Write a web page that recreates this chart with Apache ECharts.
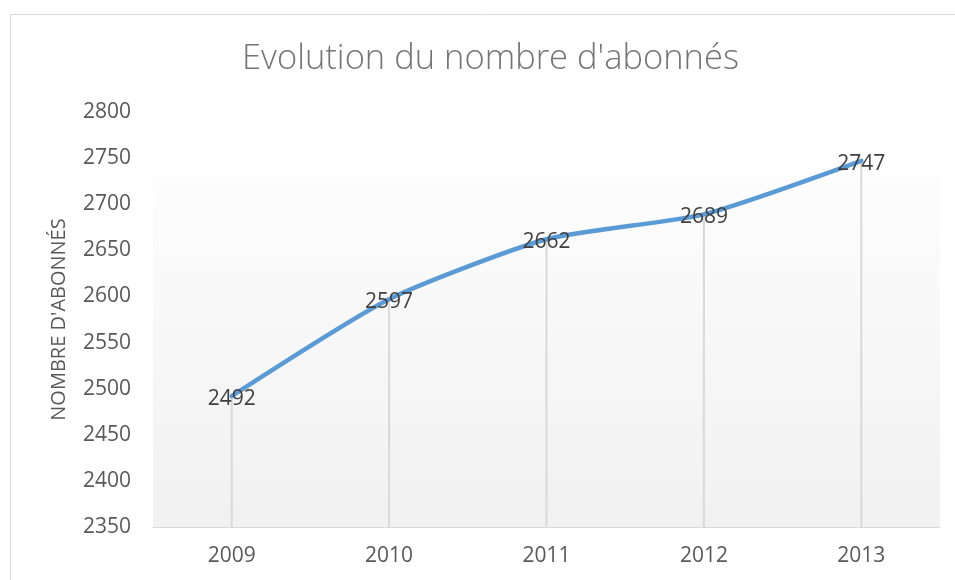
<!DOCTYPE html>
<html><head><meta charset="utf-8">
<script src="https://cdn.jsdelivr.net/npm/echarts@6/dist/echarts.min.js"></script>
<style>html,body{margin:0;padding:0;background:#fff}#c{width:955px;height:580px}</style>
</head><body><div id="c"></div>
<script>
const categories = ['2009','2010','2011','2012','2013'];
const subscribers = [2492, 2597, 2662, 2689, 2747];
const yTicks = [2350, 2400, 2450, 2500, 2550, 2600, 2650, 2700, 2750, 2800];
const titleText = "Evolution du nombre d'abonnés";
const yAxisTitle = "NOMBRE D'ABONNÉS";

const chart = echarts.init(document.getElementById('c'), null, {renderer:'canvas'});
const font = 'Open Sans, Lato, sans-serif';
chart.setOption({
  animation: false,
  backgroundColor: '#fff',
  graphic: [{
    type: 'rect', left: 8, top: 12, shape: {width: 960, height: 580},
    style: {fill: 'none', stroke: '#d9d9d9', lineWidth: 1}, silent: true, z: -10
  }],
  title: {
    text: titleText, left: 237, top: 37,
    textStyle: {fontFamily: font, fontSize: 34.5, fontWeight: 300, color: '#757575'}
  },
  grid: {
    left: 153, right: 15, top: 112, bottom: 53, show: true, borderWidth: 0,
    backgroundColor: {type: 'linear', x: 0, y: 0, x2: 0, y2: 1, colorStops: [
      {offset: 0, color: '#ffffff'}, {offset: 0.148, color: '#ffffff'},
      {offset: 0.15, color: '#fdfdfd'}, {offset: 1, color: '#f1f1f1'}]}
  },
  xAxis: {
    type: 'category', data: categories, boundaryGap: true,
    axisLine: {lineStyle: {color: '#d9d9d9', width: 1}},
    axisTick: {show: false},
    axisLabel: {fontFamily: font, fontSize: 21, color: '#595959', margin: 19}
  },
  yAxis: {
    type: 'value', min: yTicks[0], max: yTicks[yTicks.length-1], interval: 50,
    name: yAxisTitle, nameLocation: 'middle', nameGap: 84,
    nameTextStyle: {fontFamily: font, fontSize: 20, color: '#595959'},
    axisLine: {show: false}, axisTick: {show: false}, splitLine: {show: false},
    axisLabel: {fontFamily: font, fontSize: 21, color: '#595959', margin: 22,
      formatter: v => String(v)}
  },
  series: [{
    type: 'bar', data: subscribers, barWidth: 2, silent: true,
    itemStyle: {color: '#d9d9d9'}, z: 1
  }, {
    type: 'line', data: subscribers, smooth: 0.2, symbol: 'circle', symbolSize: 2,
    showSymbol: true,
    itemStyle: {color: 'rgba(91,155,213,0)'},
    lineStyle: {color: '#5b9bd5', width: 4.5, cap: 'round'}, z: 3,
    labelLayout: {hideOverlap: false},
    label: {show: true, position: [1, 4], align: 'center', verticalAlign: 'middle',
      fontFamily: font, fontSize: 21, color: '#404040', formatter: p => String(p.value)}
  }]
});
</script></body></html>
